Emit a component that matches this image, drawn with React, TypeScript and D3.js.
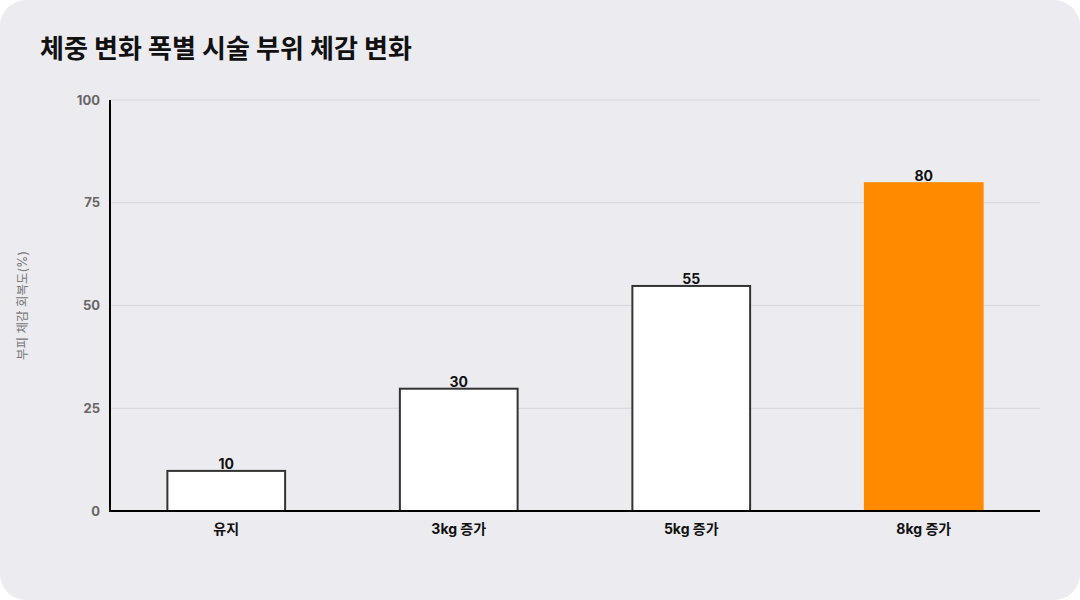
import * as d3 from "d3";

const categories = ["유지", "3kg 증가", "5kg 증가", "8kg 증가"];
const values = [10, 30, 55, 80];
const highlight = [false, false, false, true];
const yTicks = [0, 25, 50, 75, 100];

const title = "체중 변화 폭별 시술 부위 체감 변화";
const yTitle = "부피 체감 회복도(%)";

const width = 1080;
const height = 600;
const margin = { top: 100, right: 40, bottom: 89, left: 110 };
const font = "Inter, 'Noto Sans CJK KR', 'Noto Sans', sans-serif";

export default function App() {
  const innerWidth = width - margin.left - margin.right;
  const innerHeight = height - margin.top - margin.bottom;

  const x = d3.scaleBand().domain(categories).range([0, innerWidth]).paddingInner(0.485).paddingOuter(0.2425);
  const y = d3.scaleLinear().domain([0, 100]).range([innerHeight, 0]);

  return (
    <>
      <style>{`body{margin:0}`}</style>
      <svg width={width} height={height} style={{ display: "block", fontFamily: font }}>
        <rect x={0} y={0} width={width} height={height} rx={26} fill="#ecebf0" />
        <text x={40} y={58} fontSize={26} fontWeight={700} fill="#111">
          {title}
        </text>
        <text
          transform={`translate(27, ${margin.top + innerHeight / 2}) rotate(-90)`}
          textAnchor="middle"
          fontSize={12.5}
          fill="#777"
        >
          {yTitle}
        </text>
        <g transform={`translate(${margin.left}, ${margin.top})`}>
          {/* grid */}
          {yTicks.map((t) => (
            <g key={t}>
              <line x1={0} x2={innerWidth} y1={y(t)} y2={y(t)} stroke="#d6d5db" strokeWidth={1} />
              <text x={-10} y={y(t)} dy="0.35em" textAnchor="end" fontSize={13} fontWeight={700} fill="#666">
                {t}
              </text>
            </g>
          ))}

          {/* bars */}
          {categories.map((c, i) => (
            <g key={c}>
              <rect
                x={(x(c) || 0) + (highlight[i] ? 0 : 1)}
                y={y(values[i]) + (highlight[i] ? 0 : 1)}
                width={x.bandwidth() - (highlight[i] ? 0 : 2)}
                height={innerHeight - y(values[i]) - (highlight[i] ? 0 : 1)}
                fill={highlight[i] ? "#ff8a00" : "#ffffff"}
                stroke={highlight[i] ? "none" : "#333"}
                strokeWidth={2}
              />
              <text
                x={(x(c) || 0) + x.bandwidth() / 2}
                y={y(values[i]) - 1}
                textAnchor="middle"
                fontSize={14}
                fontWeight={700}
                fill="#111"
              >
                {values[i]}
              </text>
              <text
                x={(x(c) || 0) + x.bandwidth() / 2}
                y={innerHeight + 23}
                textAnchor="middle"
                fontSize={14}
                fontWeight={700}
                fill="#111"
              >
                {c}
              </text>
            </g>
          ))}

          {/* axes */}
          <line x1={0} x2={0} y1={0} y2={innerHeight + 1} stroke="#000" strokeWidth={2} />
          <line x1={0} x2={innerWidth} y1={innerHeight} y2={innerHeight} stroke="#000" strokeWidth={2} />
        </g>
      </svg>
    </>
  );
}
